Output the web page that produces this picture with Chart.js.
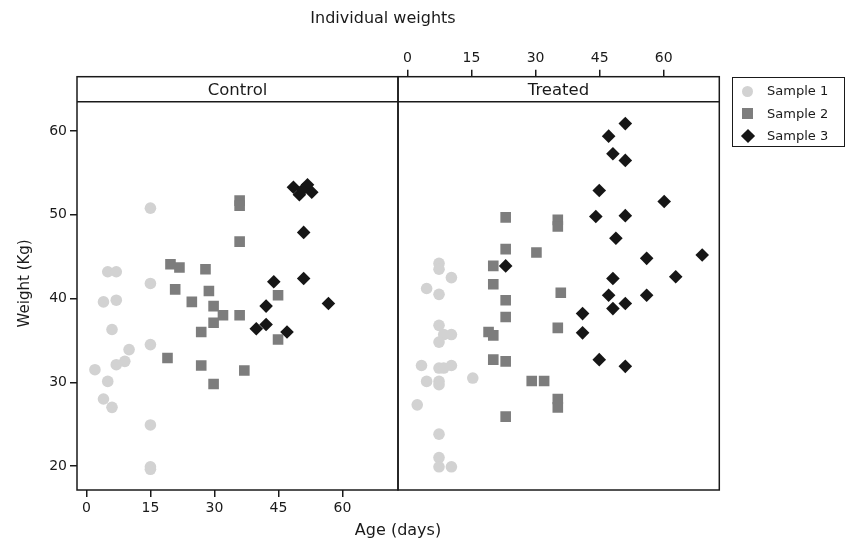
<!DOCTYPE html>
<html lang="en">
<head>
  <meta charset="UTF-8" />
  <title>Individual weights</title>
  <script src="https://cdn.jsdelivr.net/npm/chart.js"></script>
  <style>
    body {
      margin: 0;
      background: #fff;
      font-family: 'DejaVu Sans', sans-serif;
      color: #1a1a1a;
    }
    .wrap {
      position: relative;
      width: 846px;
      height: 545px;
    }
    canvas {
      position: absolute;
      left: 0;
      top: 0;
    }
    .txt {
      position: absolute;
      text-align: center;
      white-space: nowrap;
    }
    #title { left: 0; width: 766px; top: 8px; font-size: 16px; }
    .strip { top: 77px; height: 25px; line-height: 25px; width: 321px; font-size: 16.5px; }
    #xtitle { left: 77px; width: 642px; top: 520px; font-size: 16px; }
    #legend {
      position: absolute;
      left: 732px;
      top: 77px;
      width: 113px;
      height: 70px;
      box-sizing: border-box;
      border: 1px solid #1a1a1a;
      font-size: 13px;
    }
    .item { position: absolute; left: 34px; height: 16px; line-height: 16px; }
    .mark { position: absolute; }
  </style>
</head>
<body>
<div class="wrap">
  <canvas id="control" width="846" height="545"></canvas>
  <canvas id="treated" width="846" height="545"></canvas>
  <div class="txt" id="title">Individual weights</div>
  <div class="txt strip" style="left:77px">Control</div>
  <div class="txt strip" style="left:398px">Treated</div>
  <div class="txt" id="xtitle">Age (days)</div>
  <div id="legend"></div>
</div>

<script>
  // values: [age (days), weight (kg)]
  const sampleNames = ['Sample 1', 'Sample 2', 'Sample 3'];
  const ageTicks = [0, 15, 30, 45, 60];
  const weightTicks = [20, 30, 40, 50, 60];

  const control1 = [[15, 50.8], [5, 43.2], [7, 43.2], [15, 41.8], [4, 39.6], [7, 39.8], [6, 36.3],
    [15, 34.5], [10, 33.9], [9, 32.5], [7, 32.1], [2, 31.5], [5, 30.1], [4, 28.0], [6, 27.0],
    [15, 24.9], [15, 19.9], [15, 19.6]];
  const control2 = [[19.7, 44.1], [21.8, 43.7], [27.9, 43.5], [20.8, 41.1], [28.7, 40.9], [24.7, 39.6],
    [29.8, 39.1], [32, 38.0], [35.9, 38.0], [29.8, 37.1], [26.9, 36.0], [19, 32.9], [26.9, 32.0],
    [37, 31.4], [29.8, 29.8], [35.9, 51.7], [35.9, 51.1], [35.9, 46.8], [44.9, 40.4], [44.9, 35.1]];
  const control3 = [[48.5, 53.3], [51.8, 53.6], [49.9, 52.4], [52.8, 52.7], [50.7, 53.0], [50.9, 47.9],
    [50.9, 42.4], [56.7, 39.4], [43.9, 42.0], [42.1, 39.1], [39.8, 36.4], [42.1, 36.9], [47, 36.0]];

  const treated1 = [[7.4, 44.2], [7.4, 43.5], [10.3, 42.5], [4.5, 41.2], [7.4, 40.5], [7.4, 36.8],
    [8.5, 35.7], [10.3, 35.7], [7.4, 34.8], [3.3, 32.0], [7.4, 31.7], [8.5, 31.7], [10.3, 32.0],
    [4.5, 30.1], [7.4, 30.1], [7.4, 29.7], [15.3, 30.5], [2.3, 27.3], [7.4, 23.8], [7.4, 21.0],
    [7.4, 19.9], [10.3, 19.9]];
  const treated2 = [[23, 49.7], [35.2, 49.4], [35.2, 48.6], [23, 45.9], [30.2, 45.5], [20.1, 43.9],
    [20.1, 41.7], [35.9, 40.7], [23, 39.8], [23, 37.8], [35.2, 36.5], [19, 36.0], [20.1, 35.6],
    [20.1, 32.7], [23, 32.5], [29.1, 30.15], [32, 30.15], [35.2, 28.0], [35.2, 27.0], [23, 25.9]];
  const treated3 = [[23, 43.9], [51, 60.9], [47.1, 59.4], [48.1, 57.3], [51, 56.5], [44.9, 52.9],
    [60.1, 51.6], [44.1, 49.8], [51, 49.9], [48.8, 47.2], [56, 44.8], [69, 45.2], [48.1, 42.4],
    [62.8, 42.6], [47.1, 40.4], [56, 40.4], [51, 39.4], [48.1, 38.8], [41, 38.2], [41, 35.9],
    [44.9, 32.7], [51, 31.9]];

  // axis ranges; the y range runs up through the strip above each panel
  const AGE_MIN = -2.2, AGE_MAX = 73;
  const KG_MIN = 17.13, KG_MAX = 66.5, STRIP_LINE = 63.5;

  const styles = [
    { pointStyle: 'circle', radius: 5.8, color: '#d2d2d2' },
    { pointStyle: 'rect', radius: 7.5, color: '#7d7d7d' },
    { pointStyle: 'rectRot', radius: 6.8, color: '#161616' }
  ];
  const ink = '#1a1a1a';
  Chart.defaults.font.family = "'DejaVu Sans', sans-serif";
  Chart.defaults.color = ink;

  function makeSets(groups) {
    return groups.map((pts, i) => ({
      label: sampleNames[i],
      data: pts.map(p => ({ x: p[0], y: p[1] })),
      pointStyle: styles[i].pointStyle,
      pointRadius: styles[i].radius,
      backgroundColor: styles[i].color,
      borderColor: styles[i].color,
      borderWidth: 0,
      order: 3 - i
    }));
  }

  const panelFrame = {
    id: 'panelFrame',
    afterDraw(chart) {
      const { ctx, chartArea: a, scales } = chart;
      const sy = scales.y.getPixelForValue(STRIP_LINE);
      ctx.save();
      ctx.strokeStyle = ink;
      ctx.lineWidth = 1.5;
      ctx.strokeRect(a.left, a.top, a.right - a.left, a.bottom - a.top);
      ctx.beginPath();
      ctx.moveTo(a.left, sy);
      ctx.lineTo(a.right, sy);
      ctx.stroke();
      ctx.restore();
    }
  };

  function ageAxis(position, height) {
    return {
      type: 'linear', position: position, min: AGE_MIN, max: AGE_MAX,
      afterFit: s => { s.height = height; },
      afterBuildTicks: s => { s.ticks = ageTicks.map(v => ({ value: v })); },
      ticks: { padding: 3, font: { size: 14 }, color: ink },
      grid: { drawOnChartArea: false, tickLength: 7, color: ink, lineWidth: 1.5 },
      border: { display: false }
    };
  }

  function weightAxis(show) {
    return {
      type: 'linear', display: show, min: KG_MIN, max: KG_MAX,
      afterFit: s => { s.width = show ? 77 : 0; },
      afterBuildTicks: s => { s.ticks = weightTicks.map(v => ({ value: v })); },
      ticks: { padding: 3, font: { size: 14 }, color: ink },
      grid: { drawOnChartArea: false, tickLength: 7, color: ink, lineWidth: 1.5 },
      border: { display: false },
      title: { display: true, text: 'Weight (Kg)', font: { size: 15 }, color: ink, padding: { top: 16, bottom: 0 } }
    };
  }

  const common = {
    responsive: false,
    animation: false,
    devicePixelRatio: 1,
    plugins: { legend: { display: false }, tooltip: { enabled: false } }
  };

  new Chart(document.getElementById('control'), {
    type: 'scatter',
    data: { datasets: makeSets([control1, control2, control3]) },
    options: Object.assign({}, common, {
      layout: { padding: { left: 0, top: 76.7, right: 448, bottom: 0 } },
      scales: { x: ageAxis('bottom', 55), y: weightAxis(true) }
    }),
    plugins: [panelFrame]
  });

  new Chart(document.getElementById('treated'), {
    type: 'scatter',
    data: { datasets: makeSets([treated1, treated2, treated3]) },
    options: Object.assign({}, common, {
      layout: { padding: { left: 398, top: 0, right: 126.7, bottom: 55 } },
      scales: { x: ageAxis('top', 76.7), y: weightAxis(false) }
    }),
    plugins: [panelFrame]
  });

  // legend box
  const legend = document.getElementById('legend');
  const markCss = [
    'width:11px;height:11px;border-radius:50%;left:9px;',
    'width:11px;height:11px;left:9px;',
    'width:10px;height:10px;left:9.5px;transform:rotate(45deg);'
  ];
  sampleNames.forEach((name, i) => {
    const cy = 13 + i * 22.5;
    const m = document.createElement('div');
    m.className = 'mark';
    m.style.cssText = markCss[i] + 'background:' + styles[i].color + ';top:' + (cy - (i === 2 ? 5 : 5.5)) + 'px;';
    legend.appendChild(m);
    const t = document.createElement('div');
    t.className = 'item';
    t.style.top = (cy - 8) + 'px';
    t.textContent = name;
    legend.appendChild(t);
  });
</script>
</body>
</html>
